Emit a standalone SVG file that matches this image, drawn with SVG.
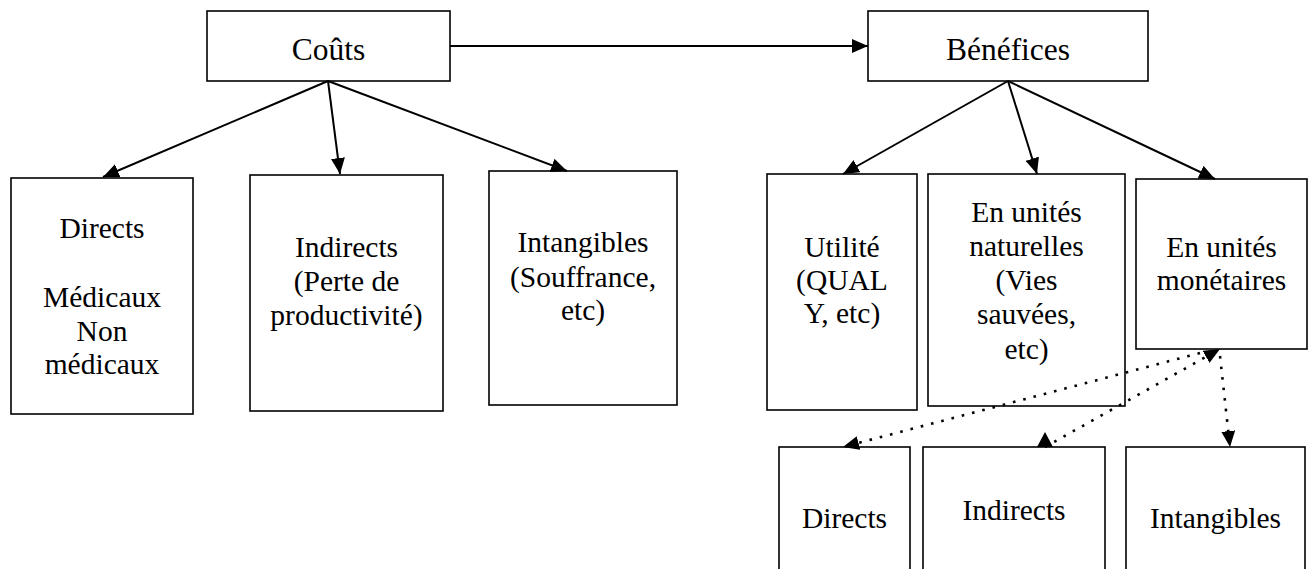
<svg xmlns="http://www.w3.org/2000/svg" width="1312" height="569" viewBox="0 0 1312 569">
  <style>
    .box { fill: #ffffff; stroke: #000000; stroke-width: 1.6; }
    text { font-family: "Liberation Serif", "Times New Roman", Tinos, "DejaVu Serif", serif; fill: #000000; text-anchor: middle; }
    .big { font-size: 31.5px; }
    .sm { font-size: 29.5px; }
    .link { fill: none; stroke: #000000; stroke-width: 2; }
    .dot { fill: none; stroke: #000000; stroke-width: 2.6; stroke-dasharray: 2.6 8; stroke-linecap: butt; }
  </style>
  <defs>
    <marker id="arrow" viewBox="0 0 16 14" refX="16" refY="7" markerWidth="16" markerHeight="14" markerUnits="userSpaceOnUse" orient="auto">
      <path d="M0,0 L16,7 L0,14 Z" fill="#000000"/>
    </marker>
    <marker id="arrowUp" viewBox="0 0 16 15" refX="8" refY="15" markerWidth="16" markerHeight="15" markerUnits="userSpaceOnUse" orient="0">
      <path d="M0,15 L8,0 L16,15 Z" fill="#000000"/>
    </marker>
  </defs>

  <!-- top level -->
  <g id="couts">
    <rect class="box" x="207" y="11" width="243" height="70"/>
    <text class="big" x="328.5" y="60" font-family="Liberation Serif">Coûts</text>
  </g>
  <g id="benefices">
    <rect class="box" x="868" y="11" width="280" height="70"/>
    <text class="big" x="1008" y="60" font-family="Liberation Serif">Bénéfices</text>
  </g>

  <!-- cost categories -->
  <g id="couts-directs">
    <rect class="box" x="11" y="178" width="182" height="236"/>
    <text class="sm" x="102" y="238">Directs</text>
    <text class="sm" x="102" y="307">Médicaux</text>
    <text class="sm" x="102" y="341">Non</text>
    <text class="sm" x="102" y="374">médicaux</text>
  </g>
  <g id="couts-indirects">
    <rect class="box" x="250" y="175" width="193" height="236"/>
    <text class="sm" x="346.5" y="257">Indirects</text>
    <text class="sm" x="346.5" y="291">(Perte de</text>
    <text class="sm" x="346.5" y="325">productivité)</text>
  </g>
  <g id="couts-intangibles">
    <rect class="box" x="489" y="171" width="188" height="234"/>
    <text class="sm" x="583" y="252">Intangibles</text>
    <text class="sm" x="583" y="287">(Souffrance,</text>
    <text class="sm" x="583" y="320">etc)</text>
  </g>

  <!-- benefit categories -->
  <g id="utilite">
    <rect class="box" x="767" y="174" width="150" height="236"/>
    <text class="sm" x="842" y="257">Utilité</text>
    <text class="sm" x="842" y="290">(QUAL</text>
    <text class="sm" x="842" y="323">Y, etc)</text>
  </g>
  <g id="unites-naturelles">
    <rect class="box" x="928" y="174" width="197" height="232"/>
    <text class="sm" x="1026.5" y="222">En unités</text>
    <text class="sm" x="1026.5" y="256">naturelles</text>
    <text class="sm" x="1026.5" y="290">(Vies</text>
    <text class="sm" x="1026.5" y="324">sauvées,</text>
    <text class="sm" x="1026.5" y="359">etc)</text>
  </g>
  <g id="unites-monetaires">
    <rect class="box" x="1136" y="179" width="171" height="170"/>
    <text class="sm" x="1221.5" y="257">En unités</text>
    <text class="sm" x="1221.5" y="290">monétaires</text>
  </g>

  <!-- monetary sub-categories -->
  <g id="mon-directs">
    <rect class="box" x="779" y="447" width="131" height="160"/>
    <text class="sm" x="844.5" y="528">Directs</text>
  </g>
  <g id="mon-indirects">
    <rect class="box" x="923" y="447" width="182" height="160"/>
    <text class="sm" x="1014" y="520">Indirects</text>
  </g>
  <g id="mon-intangibles">
    <rect class="box" x="1126" y="447" width="179" height="160"/>
    <text class="sm" x="1215.5" y="528">Intangibles</text>
  </g>

  <!-- connectors -->
  <g id="connectors">
    <line class="link" x1="450" y1="46" x2="868" y2="46" marker-end="url(#arrow)"/>
    <line class="link" x1="328" y1="81" x2="103" y2="177" marker-end="url(#arrow)"/>
    <line class="link" x1="328" y1="81" x2="340" y2="174" marker-end="url(#arrow)"/>
    <line class="link" x1="328" y1="81" x2="567" y2="171" marker-end="url(#arrow)"/>
    <line class="link" x1="1008" y1="81" x2="843" y2="174" marker-end="url(#arrow)"/>
    <line class="link" x1="1008" y1="81" x2="1037" y2="174" marker-end="url(#arrow)"/>
    <line class="link" x1="1008" y1="81" x2="1215" y2="179" marker-end="url(#arrow)"/>

    <line class="dot" x1="1200" y1="353" x2="843" y2="447" marker-end="url(#arrow)"/>
    <line class="dot" x1="1045" y1="447" x2="1220" y2="349" marker-start="url(#arrowUp)" marker-end="url(#arrow)"/>
    <line class="dot" x1="1220" y1="356" x2="1230" y2="447" marker-end="url(#arrow)"/>
  </g>
</svg>
